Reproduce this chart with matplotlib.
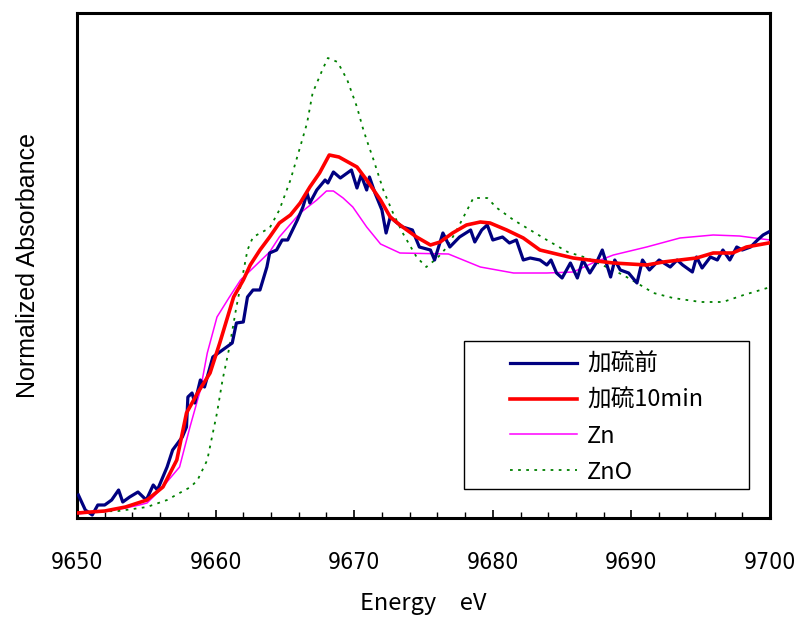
import matplotlib
matplotlib.use("Agg")
import matplotlib.pyplot as plt
from matplotlib.ticker import MultipleLocator
from matplotlib.patches import Rectangle

# ---- data (normalized absorbance) ----
zn_x = [9650, 9652, 9653.5, 9654.5, 9655.05, 9656.0, 9657.4, 9658.15, 9658.9, 9659.4, 9660.1,
        9661.0, 9661.8, 9662.7, 9663.9, 9664.6, 9666.1, 9667.3, 9668.0, 9668.5, 9669.2, 9669.9,
        9670.9, 9671.9, 9673.3, 9676.8, 9679.1, 9681.5, 9683.9, 9685.8, 9687.2, 9688.7, 9691.1,
        9693.5, 9695.9, 9697.8, 9700]
zn_y = [-0.008, 0.004, 0.016, 0.028, 0.036, 0.088, 0.18, 0.34, 0.488, 0.636, 0.78,
        0.86, 0.928, 0.976, 1.04, 1.10, 1.196, 1.248, 1.284, 1.284, 1.256, 1.22,
        1.14, 1.072, 1.036, 1.032, 0.98, 0.956, 0.956, 0.96, 0.996, 1.028, 1.06,
        1.096, 1.108, 1.104, 1.088]

s10_x = [9650, 9652, 9653.5, 9655.05, 9656.2, 9657.2, 9657.9, 9658.7, 9659.6, 9660.3, 9661.3,
         9662.0, 9662.5, 9663.2, 9663.9, 9664.6, 9665.4, 9666.1, 9666.8, 9667.5, 9668.2, 9668.9,
         9670.2, 9670.9, 9671.9, 9672.6, 9673.3, 9674.5, 9675.5, 9676.2, 9677.1, 9678.1, 9679.1,
         9679.8, 9681.0, 9682.2, 9683.4, 9684.6, 9685.8, 9687.5, 9688.7, 9689.9, 9691.1, 9692.3,
         9694.7, 9695.9, 9697.3, 9698.3, 9699.9]
s10_y = [-0.004, 0.004, 0.02, 0.048, 0.10, 0.208, 0.396, 0.476, 0.556, 0.676, 0.86,
         0.928, 0.988, 1.048, 1.10, 1.156, 1.188, 1.236, 1.30, 1.356, 1.428, 1.42,
         1.38, 1.328, 1.248, 1.18, 1.148, 1.10, 1.068, 1.08, 1.116, 1.148, 1.16,
         1.156, 1.128, 1.096, 1.048, 1.032, 1.016, 1.004, 0.996, 0.992, 0.988, 1.00,
         1.016, 1.036, 1.036, 1.06, 1.076]

zno_x = [9650, 9653, 9655.05, 9656.5, 9657.4, 9658.2, 9658.7, 9659.4, 9659.8, 9660.1, 9660.5,
         9661.0, 9661.5, 9662.0, 9662.3, 9662.7, 9663.9, 9664.6, 9665.4, 9666.1, 9666.6, 9667.0,
         9667.7, 9668.1, 9668.8, 9669.5, 9670.2, 9670.6, 9670.9, 9671.4, 9672.1, 9672.8, 9673.5,
         9674.5, 9675.2, 9676.0, 9676.7, 9677.4, 9678.6, 9679.6, 9680.3, 9681.5, 9682.7, 9683.9,
         9685.4, 9686.8, 9688.2, 9689.4, 9690.4, 9691.6, 9693.0, 9695.0, 9696.6, 9698.1, 9699.8]
zno_y = [0.0, 0.004, 0.02, 0.048, 0.076, 0.10, 0.128, 0.208, 0.316, 0.396, 0.528,
         0.66, 0.82, 0.96, 1.048, 1.10, 1.136, 1.208, 1.328, 1.46, 1.556, 1.676,
         1.768, 1.816, 1.80, 1.728, 1.62, 1.54, 1.488, 1.408, 1.288, 1.196, 1.116,
         1.02, 0.98, 1.016, 1.06, 1.128, 1.256, 1.256, 1.216, 1.168, 1.128, 1.088,
         1.04, 1.016, 0.98, 0.948, 0.916, 0.876, 0.856, 0.84, 0.84, 0.868, 0.896]

pre_x = [9650.1, 9650.6, 9651.1, 9651.5, 9652.0, 9652.5, 9653.0, 9653.3, 9653.8, 9654.4, 9655.0,
         9655.5, 9655.8, 9656.5, 9656.9, 9657.6, 9657.9, 9658.0, 9658.3, 9658.5, 9658.9, 9659.2,
         9659.8, 9660.5, 9661.2, 9661.5, 9662.0, 9662.3, 9662.7, 9663.2, 9663.7, 9663.9, 9664.4,
         9664.8, 9665.2, 9665.9, 9666.3, 9666.6, 9666.8, 9667.3, 9667.9, 9668.1, 9668.5, 9669.0,
         9669.5, 9669.8, 9670.2, 9670.5, 9670.9, 9671.1, 9671.5, 9672.0, 9672.3, 9672.6, 9673.1,
         9673.5, 9674.2, 9674.7, 9675.5, 9675.8, 9676.4, 9676.9, 9677.6, 9678.4, 9678.7, 9679.2,
         9679.6, 9680.0, 9680.7, 9681.2, 9681.7, 9682.2, 9682.7, 9683.4, 9683.9, 9684.2, 9684.6,
         9685.0, 9685.6, 9686.1, 9686.5, 9687.0, 9687.5, 9687.9, 9688.5, 9688.8, 9689.2, 9689.8,
         9690.4, 9690.8, 9691.3, 9692.0, 9692.8, 9693.3, 9693.7, 9694.4, 9694.7, 9695.1, 9695.7,
         9696.2, 9696.6, 9697.1, 9697.6, 9698.0, 9698.6, 9699.1, 9699.5, 9699.9]
pre_y = [0.068, 0.008, -0.012, 0.028, 0.028, 0.048, 0.088, 0.04, 0.06, 0.08, 0.048,
         0.108, 0.088, 0.18, 0.248, 0.30, 0.34, 0.46, 0.476, 0.436, 0.528, 0.50,
         0.62, 0.648, 0.676, 0.756, 0.76, 0.86, 0.888, 0.888, 0.98, 1.036, 1.048,
         1.088, 1.088, 1.168, 1.22, 1.276, 1.236, 1.288, 1.328, 1.316, 1.36, 1.336,
         1.356, 1.368, 1.296, 1.348, 1.288, 1.34, 1.276, 1.208, 1.116, 1.18, 1.156,
         1.14, 1.128, 1.06, 1.048, 1.008, 1.116, 1.06, 1.10, 1.128, 1.08, 1.128,
         1.148, 1.088, 1.10, 1.076, 1.088, 1.008, 1.016, 1.008, 0.988, 1.008, 0.956,
         0.936, 0.996, 0.936, 1.008, 0.956, 1.00, 1.048, 0.94, 1.008, 0.968, 0.956,
         0.916, 1.008, 0.968, 1.008, 0.98, 1.008, 0.988, 0.96, 1.02, 0.976, 1.02,
         1.008, 1.048, 1.008, 1.06, 1.048, 1.06, 1.088, 1.108, 1.12]

labels = ["加硫前", "加硫10min", "Zn", "ZnO"]
xticks = [9650, 9660, 9670, 9680, 9690, 9700]

W, H = 800, 619
fig = plt.figure(figsize=(8, 6.19), dpi=100)
ax = fig.add_axes([77/W, 1-518/H, 693/W, 505/H])

ax.plot(pre_x, pre_y, color="#000080", lw=2.3, label=labels[0], zorder=3)
ax.plot(s10_x, s10_y, color="#FF0000", lw=2.6, label=labels[1], zorder=4)
ax.plot(zn_x, zn_y, color="#FF00FF", lw=1.1, label=labels[2], zorder=2)
ax.plot(zno_x, zno_y, color="#008000", lw=1.3, ls=(0, (1.5, 3)), label=labels[3], zorder=1)

ax.set_xlim(9650, 9700)
ax.set_ylim(-0.024, 1.996)
ax.set_yticks([])
ax.set_xticks(xticks)
ax.xaxis.set_minor_locator(MultipleLocator(2))
ax.tick_params(axis="x", which="major", direction="in", length=6, width=1.2, pad=24,
               labelsize=16.5)
ax.tick_params(axis="x", which="minor", direction="in", length=4, width=1.0)
for lab in ax.get_xticklabels():
    lab.set_family(["DejaVu Sans"])
    lab.set_stretch("condensed")
for sp in ax.spines.values():
    sp.set_linewidth(2.2)

ax.set_xlabel("Energy\u3000eV", fontsize=17, family=["Noto Sans CJK JP", "DejaVu Sans"],
              labelpad=13)
ax.set_ylabel("Normalized Absorbance", fontsize=18, family=["Liberation Sans", "DejaVu Sans"])
ax.yaxis.set_label_coords(-37/693, (518-265)/505)

# legend frame box (in figure pixel coordinates)
box = Rectangle((464/W, 1-489/H), (749-464)/W, (489-341)/H, transform=fig.transFigure,
                facecolor="white", edgecolor="black", lw=1.0, zorder=5)
fig.patches.append(box)

fs = 17
leg = fig.legend(loc="upper left", bbox_to_anchor=(510/W, 1-353/H),
                 prop={"family": ["Noto Sans CJK JP", "DejaVu Sans"], "size": fs},
                 frameon=False, handlelength=67/(fs*100/72), handletextpad=0.42,
                 labelspacing=0.545, borderpad=0, borderaxespad=0)
leg.set_zorder(6)

fig.savefig("out.png", dpi=100)
